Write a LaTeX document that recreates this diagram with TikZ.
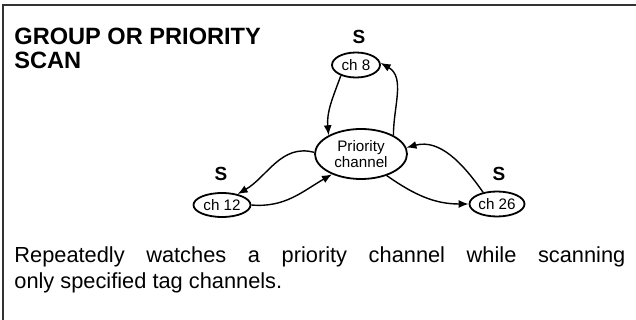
\documentclass[tikz,border=0pt]{standalone}
\usepackage{fontspec}
\setmainfont{Liberation Sans}
\usetikzlibrary{arrows.meta,shapes.geometric}

\begin{document}
\begin{tikzpicture}[x=0.5pt,y=-0.5pt,
  chan/.style={draw, ellipse, line width=0.9pt, inner sep=0pt, font=\fontsize{7.6}{8}\selectfont},
  scanmark/.style={inner sep=0pt, font=\bfseries\fontsize{9.5}{10}\selectfont},
  flow/.style={-{Latex[length=5pt,width=4pt]}, line width=0.7pt}]
  \useasboundingbox (0,0) rectangle (636,320);

  % frame
  \draw[line width=1pt, black!80] (3,320) -- (3,5) -- (636,5);

  % title
  \node[anchor=north west, inner sep=0pt, align=left, font=\bfseries\fontsize{11.8}{12}\selectfont]
    (title) at (14,28) {GROUP OR PRIORITY\\SCAN};

  % channels
  \node[chan, minimum width=46pt, minimum height=25pt, align=center, font=\fontsize{7.6}{8.2}\selectfont]
    (prio) at (361,154) {Priority\\channel};
  \node[chan, minimum width=24pt, minimum height=12.5pt] (ch8) at (356,65) {ch 8};
  \node[chan, minimum width=28.5pt, minimum height=12pt] (ch12) at (222,205) {ch 12};
  \node[chan, minimum width=27.5pt, minimum height=12.5pt] (ch26) at (497,204) {ch 26};

  % scan marks
  \node[scanmark] (s8) at (359,37) {S};
  \node[scanmark] (s12) at (221,174) {S};
  \node[scanmark] (s26) at (499,174) {S};

  % loops
  \draw[flow] (ch8.215) to[out=250, in=95] (prio.150);
  \draw[flow] (prio.30) to[out=90, in=-30] (ch8.5);
  \draw[flow] (prio.178) to[out=165, in=30] (ch12.35);
  \draw[flow] (ch12.0) to[out=-5, in=210] (prio.215);
  \draw[flow] (prio.-40) to[out=-35, in=180] (ch26.180);
  \draw[flow] (ch26.140) to[out=125, in=15] (prio.8);

  % description
  \node[anchor=north west, inner sep=0pt, text width=305.5pt, align=justify, font=\fontsize{10.9}{13.2}\selectfont]
    (desc) at (14,246) {Repeatedly watches a priority channel while scanning\linebreak only specified tag channels.};
\end{tikzpicture}
\end{document}
